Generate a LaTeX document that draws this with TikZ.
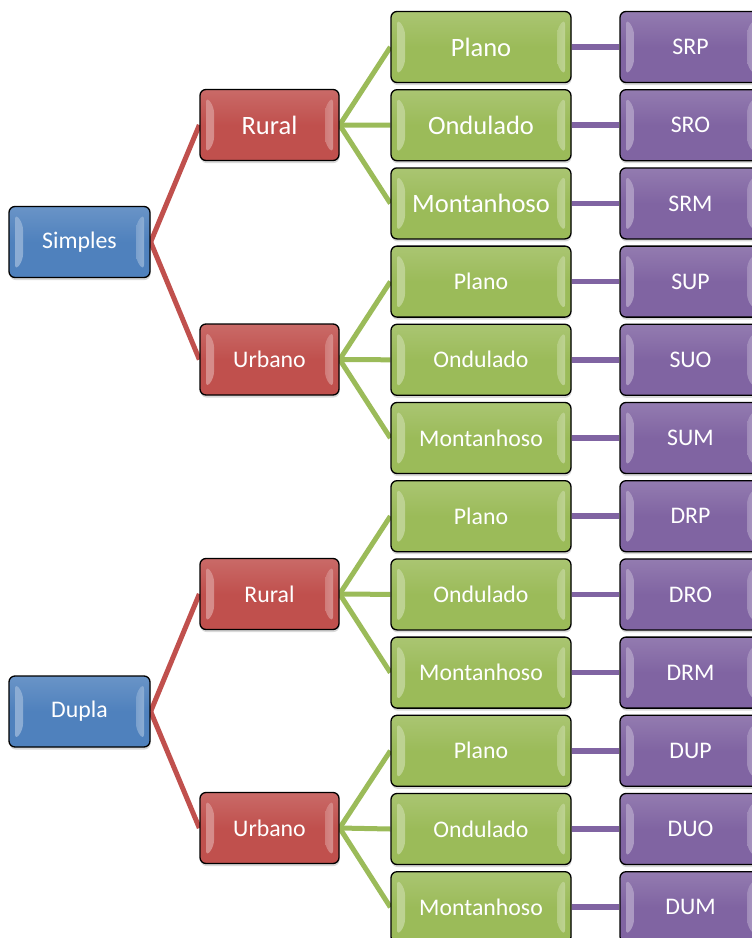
\documentclass[tikz,border=0pt]{standalone}
\usepackage{fontspec}
\setmainfont{Carlito}
\usetikzlibrary{calc,shadows,backgrounds}
\definecolor{cblue}{HTML}{4F81BD}
\definecolor{cred}{HTML}{C0504D}
\definecolor{cgreen}{HTML}{9BBB59}
\definecolor{cpurple}{HTML}{8064A2}
\tikzset{
  box/.style={draw=black, line width=1.3pt, rounded corners=6pt,
    minimum height=71pt, inner sep=0pt, text=white,
    font=\fontsize{23.8}{28}\selectfont,
    top color=#1!85!white, bottom color=#1, middle color=#1,
    drop shadow={opacity=0.3, shadow xshift=0.5pt, shadow yshift=-2.5pt},
    path picture={
      \shade[left color=#1!65!white, middle color=#1!22!white, right color=#1!75!white]
        ($(path picture bounding box.north west)+(6,7)$) --
        ($(path picture bounding box.north west)+(14,17)$) --
        ($(path picture bounding box.south west)+(14,-17)$) --
        ($(path picture bounding box.south west)+(6,-7)$) -- cycle;
      \shade[left color=#1!75!white, middle color=#1!22!white, right color=#1!65!white]
        ($(path picture bounding box.north east)+(-6,7)$) --
        ($(path picture bounding box.north east)+(-14,17)$) --
        ($(path picture bounding box.south east)+(-14,-17)$) --
        ($(path picture bounding box.south east)+(-6,-7)$) -- cycle;
    }},
  bluebox/.style={box=cblue, minimum width=141pt},
  redbox/.style={box=cred, minimum width=139pt},
  greenbox/.style={box=cgreen, minimum width=180pt},
  purplebox/.style={box=cpurple, minimum width=141pt},
  bigtext/.style={font=\fontsize{26.5}{30}\selectfont},
  normaltext/.style={font=\fontsize{23.8}{28}\selectfont},
  redline/.style={draw=cred, line width=5pt},
  greenline/.style={draw=cgreen, line width=5pt},
  purpleline/.style={draw=cpurple, line width=5.5pt},
}
\begin{document}
\begin{tikzpicture}[x=1pt,y=-1pt]
\useasboundingbox (0,0) rectangle (752,938);
\clip (0,0) rectangle (752,938);
% level 1
\node[bluebox] (s) at (79.5,242) {Simples};
\node[bluebox] (d) at (79.5,711.5) {Dupla};
% level 2
\node[redbox, bigtext] (sr) at (269.5,125) {Rural};
\node[redbox] (su) at (269.5,359.5) {Urbano};
\node[redbox] (dr) at (269.5,594) {Rural};
\node[redbox] (du) at (269.5,828) {Urbano};
% level 4
\foreach \i/\c in {0/SRP,1/SRO,2/SRM,3/SUP,4/SUO,5/SUM,6/DRP,7/DRO,8/DRM,9/DUP,10/DUO,11/DUM}{
  \pgfmathsetmacro{\yy}{47+78.2*\i}
  \node[purplebox] (p\i) at (690.5,\yy) {\fontsize{23.8}{28}\selectfont\c};
}
% level 3
\foreach \i/\t/\f in {0/Plano/bigtext,1/Ondulado/bigtext,2/Montanhoso/bigtext,
                      3/Plano/normaltext,4/Ondulado/normaltext,5/Montanhoso/normaltext,
                      6/Plano/normaltext,7/Ondulado/normaltext,8/Montanhoso/normaltext,
                      9/Plano/normaltext,10/Ondulado/normaltext,11/Montanhoso/normaltext}{
  \pgfmathsetmacro{\yy}{47+78.2*\i}
  \node[greenbox, \f] (g\i) at (481,\yy) {\t};
}
\begin{scope}[on background layer]
  \path[redline] (s.east) -- (sr.west);
  \path[redline] (s.east) -- (su.west);
  \path[redline] (d.east) -- (dr.west);
  \path[redline] (d.east) -- (du.west);
  \foreach \a/\b in {sr/0,sr/1,sr/2,su/3,su/4,su/5,dr/6,dr/7,dr/8,du/9,du/10,du/11}{
    \path[greenline] (\a.east) -- (g\b.west);
  }
  \foreach \i in {0,...,11}{
    \path[purpleline] (g\i.east) -- (p\i.west);
  }
\end{scope}
\end{tikzpicture}
\end{document}
